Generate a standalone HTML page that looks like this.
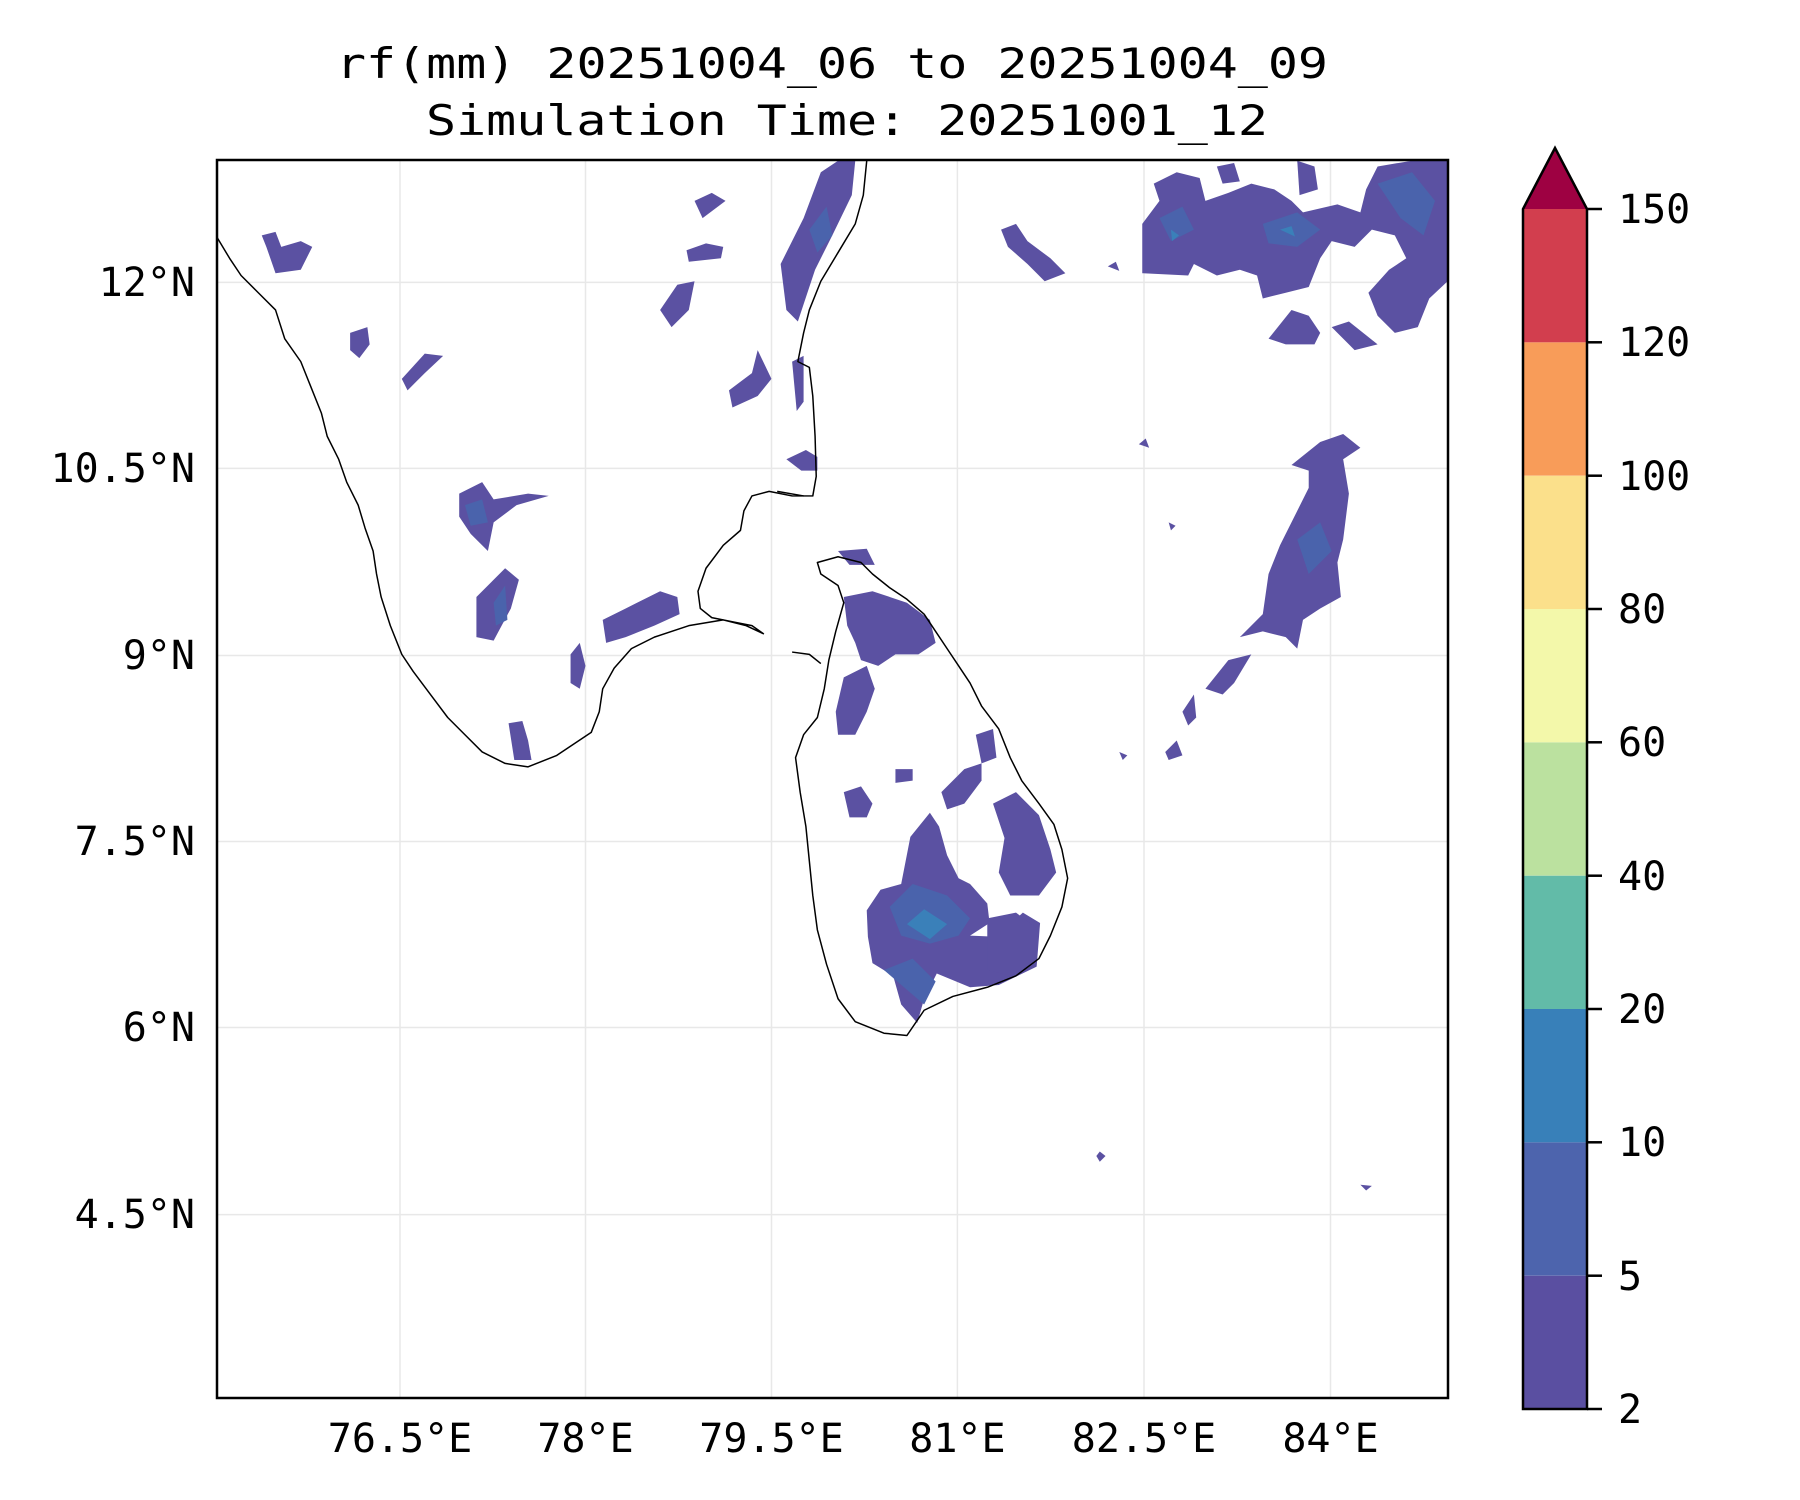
<!DOCTYPE html>
<html><head><meta charset="utf-8"><style>
html,body{margin:0;padding:0;background:#fff;}
svg{display:block;}
text{font-family:"DejaVu Sans Mono","Liberation Mono",monospace;font-size:40px;fill:#000;}
</style></head><body>
<svg width="1800" height="1500" viewBox="0 0 1800 1500" xmlns="http://www.w3.org/2000/svg">
<defs><clipPath id="ax"><rect x="217" y="160" width="1231" height="1238"/></clipPath></defs>
<text x="336" y="78" textLength="992" lengthAdjust="spacingAndGlyphs" style="font-size:42px">rf(mm) 20251004_06 to 20251004_09</text>
<text x="426" y="135" textLength="842" lengthAdjust="spacingAndGlyphs" style="font-size:42px">Simulation Time: 20251001_12</text>
<g stroke="#e8e8e8" stroke-width="1.5">
<line x1="400" y1="160" x2="400" y2="1398"/><line x1="585.5" y1="160" x2="585.5" y2="1398"/><line x1="771.5" y1="160" x2="771.5" y2="1398"/><line x1="957.4" y1="160" x2="957.4" y2="1398"/><line x1="1144" y1="160" x2="1144" y2="1398"/><line x1="1330.5" y1="160" x2="1330.5" y2="1398"/>
<line x1="217" y1="282.4" x2="1448" y2="282.4"/><line x1="217" y1="468.4" x2="1448" y2="468.4"/><line x1="217" y1="655.5" x2="1448" y2="655.5"/><line x1="217" y1="841.5" x2="1448" y2="841.5"/><line x1="217" y1="1027.5" x2="1448" y2="1027.5"/><line x1="217" y1="1214.6" x2="1448" y2="1214.6"/>
</g>
<g clip-path="url(#ax)"><g transform="scale(1.148)">
<g fill="#5b51a2">
<polygon points="735,520 760,515 790,525 810,540 815,560 800,570 780,570 765,580 750,575 745,560 738,545"/>
<polygon points="735,590 755,580 762,600 755,620 745,640 730,640 728,620"/>
<polygon points="810,708 818,720 825,745 835,765 845,770 860,787 862,804 845,815 868,816 891,795 906,804 903,842 870,858 845,860 816,848 805,870 799,891 785,875 778,850 760,839 756,816 755,793 767,775 785,770 793,729"/>
<polygon points="865,700 885,690 905,710 915,740 920,760 905,780 880,780 870,760 875,730"/>
<polygon points="860,800 885,795 905,810 900,840 880,850 860,845"/>
<polygon points="820,690 840,670 855,665 855,680 840,700 825,705"/>
<polygon points="735,690 750,685 760,700 755,712 740,712"/>
<polygon points="850,640 865,635 868,660 855,665"/>
<polygon points="780,670 795,670 795,680 780,682"/>
<polygon points="730,480 755,478 762,492 740,492"/>
<polygon points="400,430 420,420 430,435 460,430 478,432 450,440 430,455 425,480 410,465 400,450"/>
<polygon points="415,520 440,495 452,505 445,530 430,558 415,555"/>
<polygon points="525,540 545,530 575,515 590,520 592,535 570,545 545,555 528,560"/>
<polygon points="497,570 505,560 510,580 505,600 497,595"/>
<polygon points="443,630 455,628 460,645 463,662 448,662"/>
<polygon points="305,290 320,285 322,300 313,312 305,305"/>
<polygon points="350,330 370,308 386,310 370,325 355,340"/>
<polygon points="228,205 240,202 245,215 262,210 272,215 262,235 240,238 232,215"/>
<polygon points="605,175 620,168 632,175 612,190"/>
<polygon points="598,218 615,212 630,215 628,225 600,228"/>
<polygon points="575,270 590,248 605,245 600,270 585,285"/>
<polygon points="635,340 655,325 660,305 672,330 660,345 638,355"/>
<polygon points="685,400 702,392 712,398 712,410 698,410"/>
<polygon points="690,315 700,310 700,350 694,358"/>
<polygon points="680,230 700,190 715,150 730,140 745,140 742,170 725,205 710,235 700,265 695,280 685,270"/>
<polygon points="872,200 885,195 895,210 915,225 928,238 910,245 895,230 878,215"/>
<polygon points="995,195 1010,175 1005,160 1025,150 1045,155 1050,175 1070,168 1090,160 1110,165 1125,175 1135,185 1165,178 1185,185 1190,165 1200,145 1230,140 1261,140 1261,245 1245,260 1235,285 1215,290 1200,275 1192,255 1210,235 1225,225 1215,205 1195,200 1180,215 1160,210 1150,225 1140,250 1120,255 1100,260 1095,240 1080,235 1060,240 1040,230 1035,240 995,238"/>
<polygon points="1130,140 1145,145 1148,165 1132,170"/>
<polygon points="1060,145 1075,142 1080,158 1065,160"/>
<polygon points="1105,295 1125,270 1140,275 1150,290 1145,300 1120,300"/>
<polygon points="1160,285 1175,280 1200,300 1180,305"/>
<polygon points="1125,405 1150,385 1170,378 1185,390 1170,400 1175,430 1170,470 1165,490 1168,520 1150,530 1135,540 1130,565 1120,555 1100,550 1080,555 1100,535 1105,500 1115,475 1130,445 1140,425 1140,410"/>
<polygon points="1050,600 1070,575 1090,570 1075,595 1065,605"/>
<polygon points="1030,620 1040,605 1042,625 1035,632"/>
<polygon points="1015,655 1025,645 1030,658 1018,662"/>
<polygon points="975,655 982,658 978,662"/><polygon points="958,1003 963,1007 958,1012 955,1007"/>
<polygon points="1185,1032 1195,1033 1190,1037"/><polygon points="965,232 972,228 975,236"/>
<polygon points="992,387 998,382 1001,390"/><polygon points="1018,455 1024,458 1020,462"/>
</g>
<g fill="#4a63ac">
<polygon points="775,790 795,770 825,780 845,800 835,815 810,822 785,815"/>
<polygon points="770,845 795,835 815,855 805,875"/>
<polygon points="405,440 420,435 425,455 410,458"/>
<polygon points="1010,190 1030,180 1040,200 1020,210"/>
<polygon points="1100,195 1130,185 1150,200 1130,215 1105,212"/>
<polygon points="1200,160 1230,150 1250,175 1240,205 1220,190"/>
<polygon points="705,200 720,180 725,205 712,220"/>
<polygon points="430,525 440,510 442,540 432,545"/>
<polygon points="1130,470 1150,455 1160,480 1140,500"/>
</g>
<g fill="#3a80b9">
<polygon points="790,805 805,792 825,805 810,818"/>
<polygon points="1020,200 1027,205 1021,210"/>
<polygon points="1115,200 1125,197 1128,206"/>
</g>
<g fill="none" stroke="#000" stroke-width="1.3" stroke-linejoin="round">
<polyline points="188,205 200,225 210,240 225,255 240,270 248,295 262,315 270,335 280,360 285,380 295,400 302,420 312,440 318,460 325,480 328,500 332,520 340,545 350,570 360,585 375,605 390,625 405,640 420,655 440,665 460,668 485,658 500,648 515,638 522,620 525,600 535,582 550,565 570,555 600,545 630,540 650,545 665,552 655,545 640,542 620,538 610,530 608,515 615,495 630,475 645,462 648,445 655,432 670,428 690,432 708,432 711,415 710,380 708,345 705,320 695,315 700,290 705,270 715,245 730,220 745,195 752,170 755,140"/>
<polygon points="712,490 730,485 750,490 760,500 775,512 790,522 805,535 815,550 825,565 835,580 845,595 855,615 870,635 880,660 890,680 905,700 918,718 925,740 930,765 925,790 915,815 905,835 885,850 860,860 830,868 805,880 790,902 770,900 745,890 730,870 720,840 712,810 708,780 705,750 702,720 697,690 693,660 700,640 712,625 718,600 722,575 728,550 735,525 730,510 715,500"/>
<polyline points="690,568 705,570 715,578"/>
<polyline points="677,428 700,432"/>
</g>
</g></g>
<rect x="217" y="160" width="1231" height="1238" fill="none" stroke="#000" stroke-width="2.5"/>
<g text-anchor="middle">
<text x="400" y="1452">76.5°E</text><text x="585.5" y="1452">78°E</text><text x="771.5" y="1452">79.5°E</text><text x="957.4" y="1452">81°E</text><text x="1144" y="1452">82.5°E</text><text x="1330.5" y="1452">84°E</text>
</g>
<g text-anchor="end">
<text x="195" y="296">12°N</text><text x="195" y="482">10.5°N</text><text x="195" y="669">9°N</text><text x="195" y="855">7.5°N</text><text x="195" y="1041">6°N</text><text x="195" y="1228">4.5°N</text>
</g>
<g>
<rect x="1523" y="1275.7" width="64" height="133.3" fill="#5a4fa1"/>
<rect x="1523" y="1142.3" width="64" height="133.3" fill="#4d64ad"/>
<rect x="1523" y="1009" width="64" height="133.3" fill="#3880b9"/>
<rect x="1523" y="875.7" width="64" height="133.3" fill="#62bba8"/>
<rect x="1523" y="742.3" width="64" height="133.3" fill="#bbe19f"/>
<rect x="1523" y="609" width="64" height="133.3" fill="#f3f8aa"/>
<rect x="1523" y="475.7" width="64" height="133.3" fill="#fbe08b"/>
<rect x="1523" y="342.3" width="64" height="133.3" fill="#f89c59"/>
<rect x="1523" y="209" width="64" height="133.3" fill="#d23e4e"/>
<polygon points="1523,209 1555,148 1587,209" fill="#9e0142"/>
<polygon points="1523,1409 1523,209 1555,148 1587,209 1587,1409" fill="none" stroke="#000" stroke-width="2.5"/>
<g stroke="#000" stroke-width="2.5">
<line x1="1587" y1="1409" x2="1602" y2="1409"/><line x1="1587" y1="1275.7" x2="1602" y2="1275.7"/><line x1="1587" y1="1142.3" x2="1602" y2="1142.3"/><line x1="1587" y1="1009" x2="1602" y2="1009"/><line x1="1587" y1="875.7" x2="1602" y2="875.7"/><line x1="1587" y1="742.3" x2="1602" y2="742.3"/><line x1="1587" y1="609" x2="1602" y2="609"/><line x1="1587" y1="475.7" x2="1602" y2="475.7"/><line x1="1587" y1="342.3" x2="1602" y2="342.3"/><line x1="1587" y1="209" x2="1602" y2="209"/>
</g>
<text x="1618" y="1423">2</text><text x="1618" y="1290">5</text><text x="1618" y="1156">10</text><text x="1618" y="1023">20</text><text x="1618" y="890">40</text><text x="1618" y="756">60</text><text x="1618" y="623">80</text><text x="1618" y="490">100</text><text x="1618" y="356">120</text><text x="1618" y="223">150</text>
</g>
</svg>
</body></html>
